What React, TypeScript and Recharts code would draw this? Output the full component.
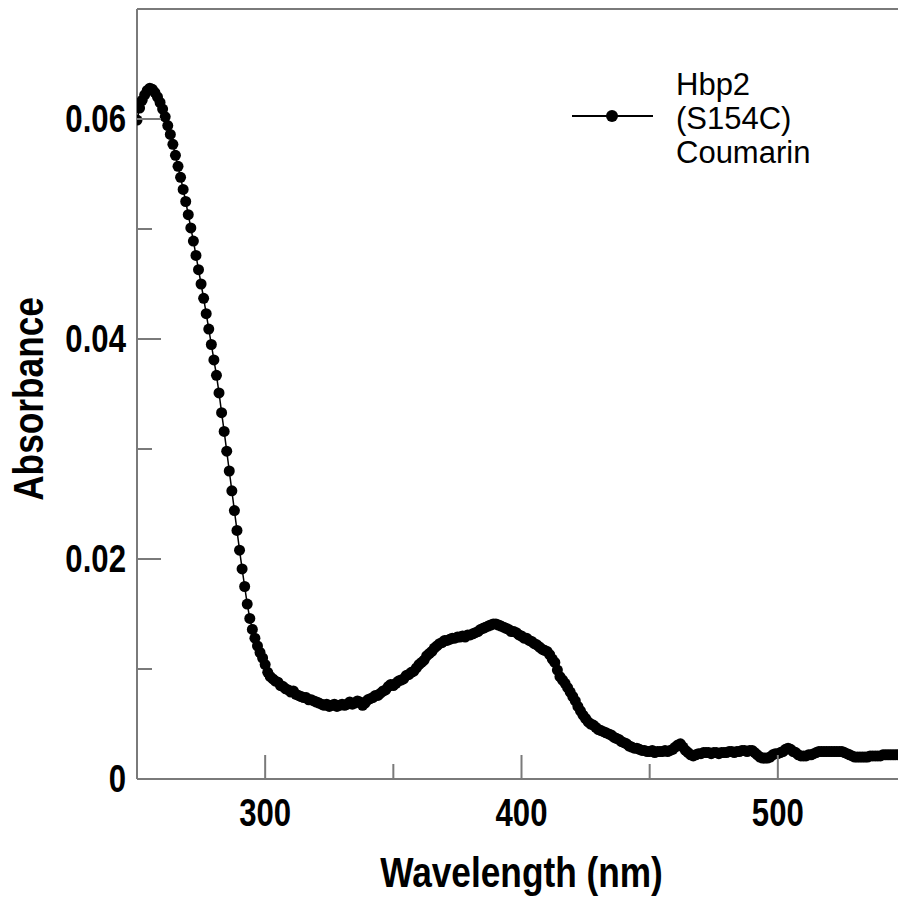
import { Label, Legend, Line, LineChart, ReferenceLine, XAxis, YAxis } from "recharts"

// spectrum sampled every 1 nm starting at 250 nm
const WAVELENGTH_START = 250
const WAVELENGTH_STEP = 1

const ABSORBANCE = [
    // 250 - 299
    0.0599, 0.0610, 0.0617, 0.0622, 0.0626, 0.0628, 0.0627, 0.0624, 0.0620, 0.0615,
    0.0609, 0.0602, 0.0594, 0.0586, 0.0577, 0.0567, 0.0557, 0.0547, 0.0536, 0.0525,
    0.0513, 0.0501, 0.0489, 0.0476, 0.0463, 0.0450, 0.0437, 0.0423, 0.0409, 0.0395,
    0.0381, 0.0367, 0.0351, 0.0333, 0.0316, 0.0298, 0.0280, 0.0262, 0.0244, 0.0226,
    0.0208, 0.0191, 0.0175, 0.0159, 0.0146, 0.0136, 0.0128, 0.0121, 0.0115, 0.0110,
    // 300 - 349
    0.0104, 0.0097, 0.0093, 0.0091, 0.0089, 0.0088, 0.0085, 0.0084, 0.0082, 0.0081,
    0.0079, 0.0080, 0.0077, 0.0076, 0.0075, 0.0074, 0.0074, 0.0072, 0.0072, 0.0071,
    0.0070, 0.0069, 0.0068, 0.0067, 0.0068, 0.0066, 0.0067, 0.0068, 0.0066, 0.0067,
    0.0068, 0.0067, 0.0068, 0.0070, 0.0068, 0.0069, 0.0071, 0.0070, 0.0067, 0.0069,
    0.0072, 0.0073, 0.0074, 0.0076, 0.0076, 0.0078, 0.0080, 0.0081, 0.0084, 0.0086,
    // 350 - 399
    0.0085, 0.0087, 0.0089, 0.0090, 0.0091, 0.0094, 0.0095, 0.0097, 0.0098, 0.0101,
    0.0104, 0.0106, 0.0108, 0.0112, 0.0114, 0.0116, 0.0119, 0.0121, 0.0123, 0.0124,
    0.0126, 0.0126, 0.0127, 0.0128, 0.0128, 0.0129, 0.0129, 0.0130, 0.0129, 0.0131,
    0.0131, 0.0132, 0.0133, 0.0134, 0.0136, 0.0137, 0.0138, 0.0139, 0.0140, 0.0141,
    0.0141, 0.0140, 0.0139, 0.0138, 0.0137, 0.0136, 0.0134, 0.0134, 0.0133, 0.0131,
    // 400 - 449
    0.0130, 0.0128, 0.0128, 0.0126, 0.0125, 0.0123, 0.0122, 0.0120, 0.0118, 0.0117,
    0.0116, 0.0113, 0.0109, 0.0106, 0.0099, 0.0093, 0.0090, 0.0087, 0.0083, 0.0079,
    0.0075, 0.0071, 0.0066, 0.0062, 0.0058, 0.0055, 0.0052, 0.0050, 0.0049, 0.0047,
    0.0045, 0.0044, 0.0043, 0.0042, 0.0041, 0.0040, 0.0038, 0.0037, 0.0036, 0.0034,
    0.0033, 0.0032, 0.0030, 0.0029, 0.0028, 0.0028, 0.0027, 0.0026, 0.0026, 0.0025,
    // 450 - 499
    0.0025, 0.0026, 0.0024, 0.0025, 0.0025, 0.0025, 0.0026, 0.0025, 0.0026, 0.0027,
    0.0029, 0.0031, 0.0032, 0.0029, 0.0026, 0.0024, 0.0022, 0.0021, 0.0022, 0.0023,
    0.0023, 0.0024, 0.0024, 0.0024, 0.0023, 0.0024, 0.0024, 0.0023, 0.0024, 0.0024,
    0.0024, 0.0025, 0.0025, 0.0024, 0.0025, 0.0025, 0.0026, 0.0026, 0.0025, 0.0026,
    0.0026, 0.0024, 0.0022, 0.0020, 0.0019, 0.0019, 0.0019, 0.0020, 0.0022, 0.0023,
    // 500 - 550
    0.0023, 0.0024, 0.0025, 0.0027, 0.0028, 0.0027, 0.0025, 0.0024, 0.0022, 0.0021,
    0.0021, 0.0021, 0.0022, 0.0022, 0.0023, 0.0024, 0.0025, 0.0025, 0.0025, 0.0025,
    0.0025, 0.0025, 0.0025, 0.0025, 0.0025, 0.0025, 0.0024, 0.0023, 0.0022, 0.0021,
    0.0020, 0.0020, 0.0020, 0.0020, 0.0020, 0.0020, 0.0021, 0.0021, 0.0021, 0.0021,
    0.0021, 0.0022, 0.0022, 0.0022, 0.0022, 0.0022, 0.0022, 0.0022, 0.0022, 0.0022,
    0.0022,
]

const SERIES_NAME = ["Hbp2", "(S154C)", "Coumarin"]

const X_TICKS = [250, 300, 350, 400, 450, 500, 550]
const X_LABELED = [300, 400, 500]
const Y_TICKS = [0, 0.01, 0.02, 0.03, 0.04, 0.05, 0.06, 0.07]
const Y_LABELED = [0, 0.02, 0.04, 0.06]

const AXIS_GRAY = "#7a7a7a"
// no Arial Narrow around, so squash Liberation Sans Bold sideways instead
const BOLD_FONT = "'Liberation Sans', Arial, sans-serif"
const NARROW = 0.82
const LEGEND_FONT = "'Liberation Sans', Arial, sans-serif"

const data = ABSORBANCE.map((a, i) => ({ nm: WAVELENGTH_START + i * WAVELENGTH_STEP, abs: a }))

const NarrowText = ({ x, y, size, anchor, rotate, children }: any) => (
    <text
        transform={`translate(${x} ${y})${rotate ? ` rotate(${rotate})` : ""} scale(${NARROW} 1)`}
        textAnchor={anchor}
        fontFamily={BOLD_FONT}
        fontWeight="bold"
        fontSize={size}
        fill="#000"
    >
        {children}
    </text>
)

const XTick = ({ x, y, payload }: any) => {
    const major = X_LABELED.includes(payload.value)
    return (
        <g>
            <line x1={x} x2={x} y1={y} y2={y - (major ? 24 : 15)} stroke={AXIS_GRAY} strokeWidth={2} />
            {major && (
                <NarrowText x={x} y={y + 47} size={38} anchor="middle">
                    {payload.value}
                </NarrowText>
            )}
        </g>
    )
}

const YTick = ({ x, y, payload }: any) => {
    const major = Y_LABELED.some((v) => Math.abs(v - payload.value) < 1e-9)
    return (
        <g>
            <line x1={x} x2={x + (major ? 24 : 15)} y1={y} y2={y} stroke={AXIS_GRAY} strokeWidth={2} />
            {major && (
                <NarrowText x={x - 11} y={y + 13} size={38} anchor="end">
                    {payload.value === 0 ? "0" : payload.value.toFixed(2)}
                </NarrowText>
            )}
        </g>
    )
}

const renderLegend = () => (
    <svg width={280} height={110}>
        <line x1={4} x2={85} y1={50} y2={50} stroke="#000" strokeWidth={2} />
        <circle cx={44} cy={50} r={6} fill="#000" />
        {SERIES_NAME.map((s, i) => (
            <text key={s} x={108} y={29 + i * 34} fontFamily={LEGEND_FONT} fontSize={31} fill="#000">
                {s}
            </text>
        ))}
    </svg>
)

export default function App() {
    return (
        <div style={{ position: "absolute", left: 0, top: 0, width: 898, height: 898, overflow: "hidden", background: "#fff" }}>
            <LineChart
                width={920}
                height={898}
                data={data}
                margin={{ top: 9, right: 14, bottom: 0, left: 0 }}
            >
                <XAxis
                    dataKey="nm"
                    type="number"
                    domain={[250, 550]}
                    ticks={X_TICKS}
                    interval={0}
                    height={119}
                    tickSize={0}
                    tickMargin={0}
                    tick={<XTick />}
                    axisLine={{ stroke: AXIS_GRAY, strokeWidth: 2 }}
                    allowDataOverflow
                >
                    <Label
                        content={({ viewBox }: any) => (
                            <NarrowText x={viewBox.x + viewBox.width / 2} y={viewBox.y + 108} size={43} anchor="middle">
                                Wavelength (nm)
                            </NarrowText>
                        )}
                    />
                </XAxis>
                <YAxis
                    type="number"
                    domain={[0, 0.07]}
                    ticks={Y_TICKS}
                    interval={0}
                    width={137}
                    tickSize={0}
                    tickMargin={0}
                    tick={<YTick />}
                    axisLine={{ stroke: AXIS_GRAY, strokeWidth: 2 }}
                >
                    <Label
                        content={({ viewBox }: any) => (
                            <NarrowText x={43} y={viewBox.y + viewBox.height / 2 + 5} size={43} anchor="middle" rotate={-90}>
                                Absorbance
                            </NarrowText>
                        )}
                    />
                </YAxis>
                <ReferenceLine y={0.07} stroke={AXIS_GRAY} strokeWidth={2} />
                <Legend
                    layout="horizontal"
                    verticalAlign="middle"
                    content={renderLegend}
                    wrapperStyle={{ position: "absolute", left: 568, top: 66, width: 280 }}
                />
                <Line
                    type="linear"
                    dataKey="abs"
                    stroke="#000"
                    strokeWidth={1.5}
                    dot={{ r: 5.5, fill: "#000", stroke: "none" }}
                    isAnimationActive={false}
                />
            </LineChart>
        </div>
    )
}
